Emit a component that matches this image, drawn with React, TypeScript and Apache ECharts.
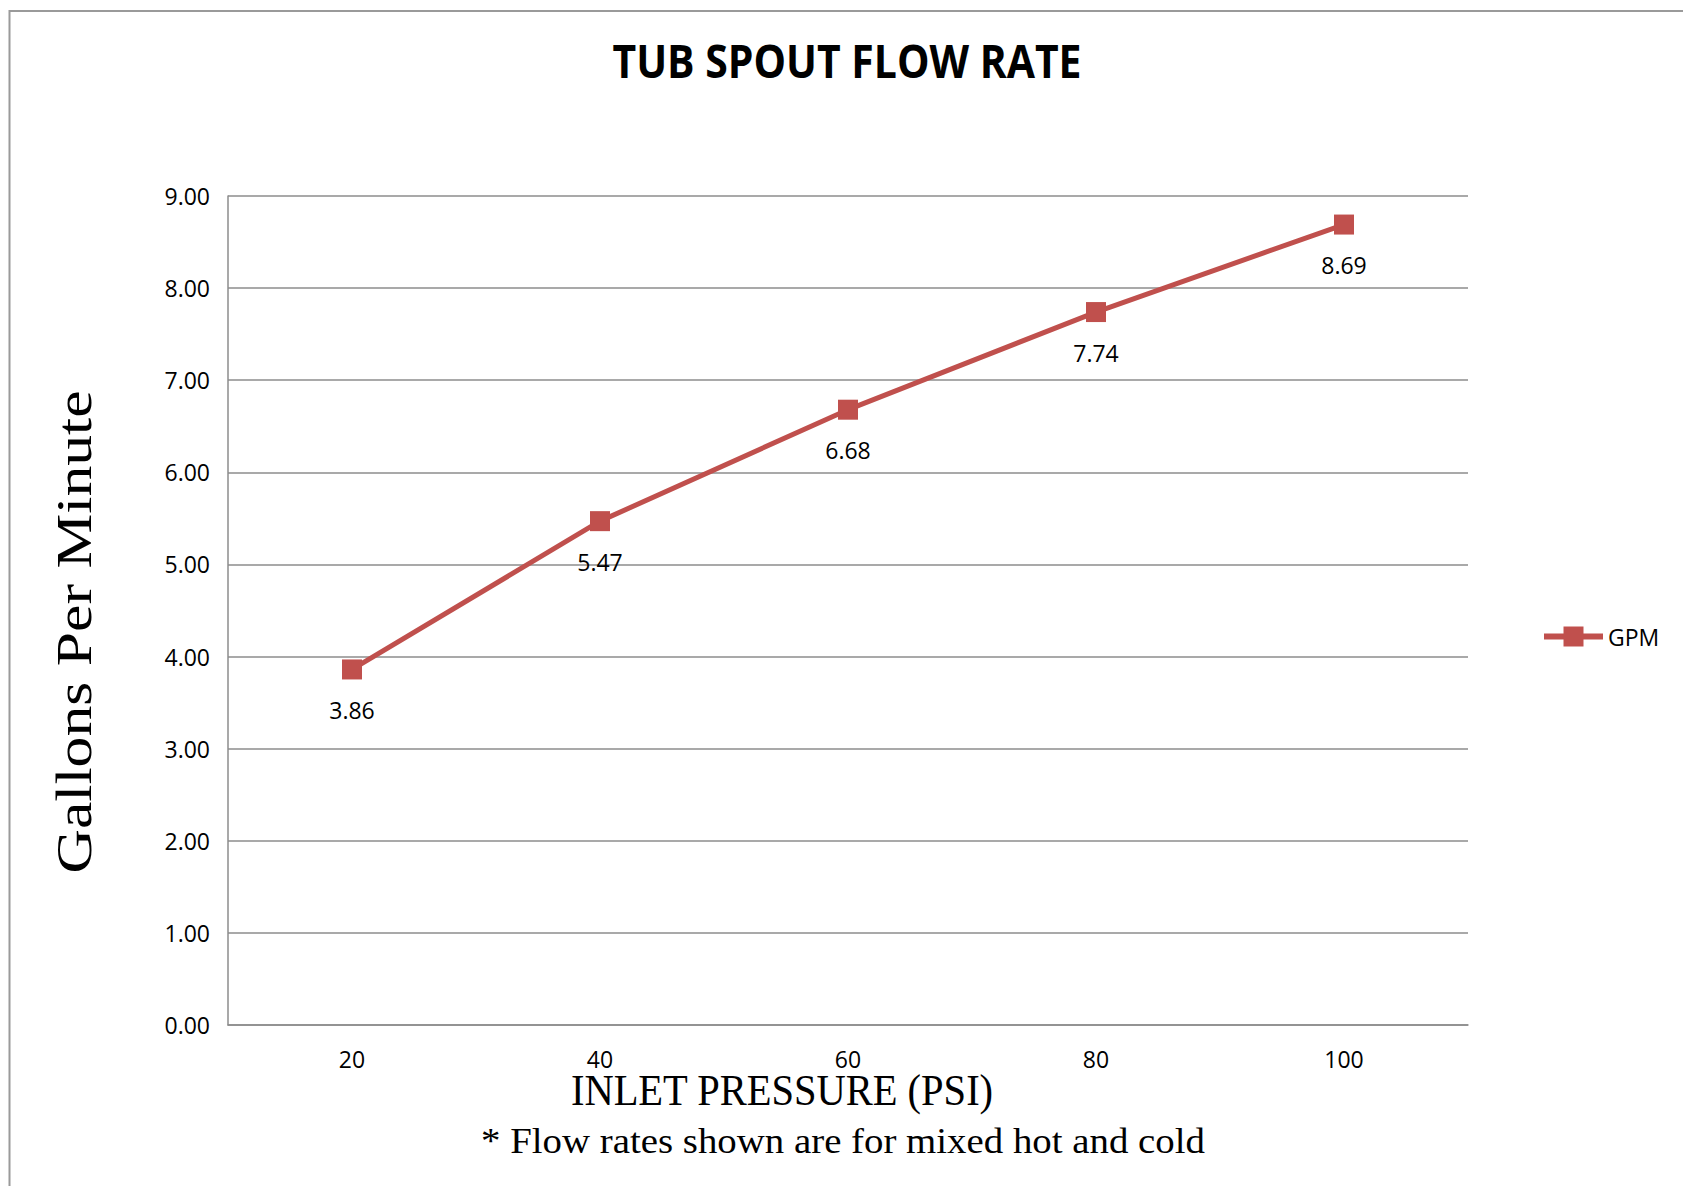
import React, { useEffect, useRef } from "react";
import * as echarts from "echarts";

const categories = ["20", "40", "60", "80", "100"];
const gpmValues = [3.86, 5.47, 6.68, 7.74, 8.69];
const seriesName = "GPM";
const titleText = "TUB SPOUT FLOW RATE";
const yAxisTitle = "Gallons Per Minute";
const xAxisTitle = "INLET PRESSURE (PSI)";
const footnote = "* Flow rates shown are for mixed hot and cold";

const RED = "#C0504D";
const GRID = "#8c8c8c";
const LABEL_FONT = '"Open Sans", "Noto Sans", sans-serif';
const SERIF = '"Liberation Serif", "DejaVu Serif", serif';

export default function App() {
  const ref = useRef<HTMLDivElement>(null);
  useEffect(() => {
    if (!ref.current) return;
    const chart = echarts.init(ref.current, undefined, { renderer: "svg" });
    chart.setOption({
      animation: false,
      backgroundColor: "#ffffff",
      grid: { left: 228, top: 196, width: 1240, height: 829, containLabel: false },
      xAxis: {
        type: "category",
        data: categories,
        boundaryGap: true,
        axisTick: { show: false },
        axisLine: { show: true, lineStyle: { color: GRID, width: 1.5 } },
        axisLabel: { color: "#000", fontSize: 23, fontFamily: LABEL_FONT, margin: 22 },
      },
      yAxis: {
        type: "value",
        min: 0,
        max: 9,
        interval: 1,
        axisTick: { show: false },
        axisLine: { show: true, lineStyle: { color: GRID, width: 1.5 } },
        splitLine: { show: true, lineStyle: { color: GRID, width: 1.5 } },
        axisLabel: {
          color: "#000",
          fontSize: 23,
          fontFamily: LABEL_FONT,
          margin: 18,
          formatter: (v: number) => v.toFixed(2),
        },
      },
      legend: {
        show: true,
        left: 1536,
        top: 620,
        itemWidth: 59,
        itemHeight: 25,
        itemGap: 6,
        lineStyle: { width: 6, color: RED },
        textStyle: { color: "#000", fontSize: 23, fontFamily: LABEL_FONT },
        data: [seriesName],
      },
      series: [
        {
          name: seriesName,
          type: "line",
          data: gpmValues,
          symbol: "rect",
          symbolSize: 20,
          itemStyle: { color: RED },
          lineStyle: { color: RED, width: 5 },
          label: {
            show: true,
            position: "bottom",
            distance: 19,
            color: "#000",
            fontSize: 23,
            fontFamily: LABEL_FONT,
            formatter: (p: any) => p.value.toFixed(2),
          },
        },
      ],
      graphic: [
        {
          type: "rect",
          shape: { x: 9.5, y: 11, width: 1750, height: 1250 },
          style: { fill: "none", stroke: "#9a9a9a", lineWidth: 2 },
          silent: true,
        },
        {
          type: "text",
          x: 847,
          y: 60,
          scaleX: 0.89,
          style: {
            text: titleText,
            font: 'bold 46px "Open Sans", "Noto Sans", sans-serif',
            fill: "#000",
            textAlign: "center",
            textVerticalAlign: "middle",
          },
        },
        {
          type: "text",
          x: 74,
          y: 632,
          rotation: Math.PI / 2,
          scaleX: 1.21,
          style: {
            text: yAxisTitle,
            font: "51px " + SERIF,
            fill: "#000",
            textAlign: "center",
            textVerticalAlign: "middle",
          },
        },
        {
          type: "text",
          x: 782,
          y: 1090,
          scaleX: 0.9,
          style: {
            text: xAxisTitle,
            font: "45px " + SERIF,
            fill: "#000",
            textAlign: "center",
            textVerticalAlign: "middle",
          },
        },
        {
          type: "text",
          x: 843,
          y: 1141,
          scaleX: 1.11,
          style: {
            text: footnote,
            font: "35px " + SERIF,
            fill: "#000",
            textAlign: "center",
            textVerticalAlign: "middle",
          },
        },
      ],
    });
    return () => chart.dispose();
  }, []);
  return (
    <div
      ref={ref}
      style={{ position: "fixed", left: 0, top: 0, width: 1683, height: 1186 }}
    />
  );
}
